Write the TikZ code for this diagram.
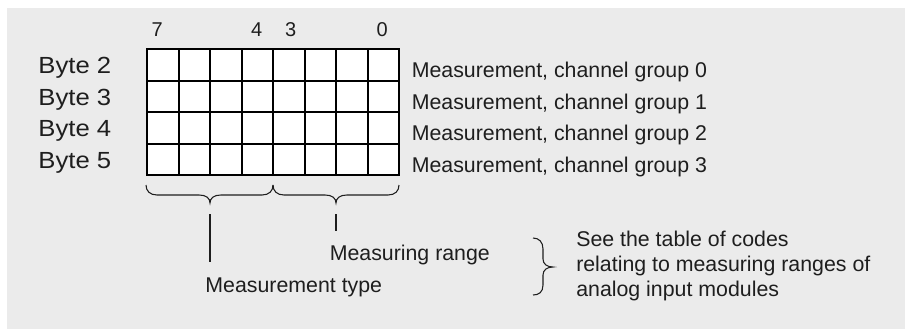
\documentclass[tikz,border=0pt]{standalone}
\usepackage{fontspec}
\setmainfont{Liberation Sans}
\newfontfamily\bytefont[FakeStretch=1.1]{Liberation Sans}
\definecolor{bg}{HTML}{EBEBEB}
\definecolor{ink}{HTML}{1E1E1E}
\begin{document}
\begin{tikzpicture}[x=0.75pt,y=-0.75pt,
  lbl/.style={inner sep=0, text=ink, font=\fontsize{16}{19}\selectfont, anchor=base west},
  bitnum/.style={inner sep=0, text=ink, font=\fontsize{15}{18}\selectfont, anchor=base},
  bytelbl/.style={inner sep=0, text=ink, font=\bytefont\fontsize{17.5}{21}\selectfont, anchor=base east},
  gridline/.style={line width=1.5pt, draw=black},
  bracestyle/.style={line width=0.8pt, draw=ink},
  leader/.style={line width=1pt, draw=ink}]
\useasboundingbox (0,0) rectangle (905,329);
\fill[bg] (7,8) rectangle (905,329);
% grid
\fill[white] (147,49) rectangle (399,175);
\foreach \i in {1,...,7} \draw[gridline] ({147+31.5*\i},49) -- ({147+31.5*\i},175);
\foreach \j in {1,...,3} \draw[gridline] (147,{49+31.5*\j}) -- (399,{49+31.5*\j});
\draw[gridline] (147,49) rectangle (399,175);
% bit numbers
\node[bitnum] (b7) at (157.3,36.7) {7};
\node[bitnum] (b4) at (256.7,36.7) {4};
\node[bitnum] (b3) at (290.8,36.7) {3};
\node[bitnum] (b0) at (382.2,36.7) {0};
% byte labels
\node[bytelbl] (y2) at (111.5,73.3) {Byte 2};
\node[bytelbl] (y3) at (111.5,105) {Byte 3};
\node[bytelbl] (y4) at (111.5,136.7) {Byte 4};
\node[bytelbl] (y5) at (111.5,168.3) {Byte 5};
% measurement labels
\node[lbl] (m0) at (411.5,77.3) {Measurement, channel group 0};
\node[lbl] (m1) at (411.5,109) {Measurement, channel group 1};
\node[lbl] (m2) at (411.5,140.7) {Measurement, channel group 2};
\node[lbl] (m3) at (411.5,172.7) {Measurement, channel group 3};
% braces under grid
\draw[bracestyle] (146,185) .. controls (146,191) and (150,195) .. (157,195) -- (199,195)
  .. controls (206,195) and (210,198) .. (210,203)
  .. controls (210,198) and (214,195) .. (221,195) -- (262,195)
  .. controls (269,195) and (273,191) .. (273,185);
\draw[bracestyle] (273,185) .. controls (273,191) and (277,195) .. (284,195) -- (325,195)
  .. controls (332,195) and (336,198) .. (336,203)
  .. controls (336,198) and (340,195) .. (347,195) -- (388,195)
  .. controls (395,195) and (399,191) .. (399,185);
% leaders
\coordinate (ta) at (210,214);
\coordinate (tb) at (210,262);
\coordinate (ra) at (336,214);
\coordinate (rb) at (336,231);
\draw[leader] (ta) -- (tb);
\draw[leader] (ra) -- (rb);
\node[lbl] (range) at (329.5,260) {Measuring range};
\node[lbl] (type) at (205.2,292.7) {Measurement type};
% right brace
\draw[bracestyle] (533,238) .. controls (539,238) and (543,242) .. (543,249) -- (543,259)
  .. controls (543,264) and (547,267) .. (553,267)
  .. controls (547,267) and (543,270) .. (543,275) -- (543,285)
  .. controls (543,292) and (539,295) .. (533,295);
\node[lbl] (see1) at (576,246) {See the table of codes};
\node[lbl] (see2) at (576,271.7) {relating to measuring ranges of};
\node[lbl] (see3) at (576,296.7) {analog input modules};
\end{tikzpicture}
\end{document}
